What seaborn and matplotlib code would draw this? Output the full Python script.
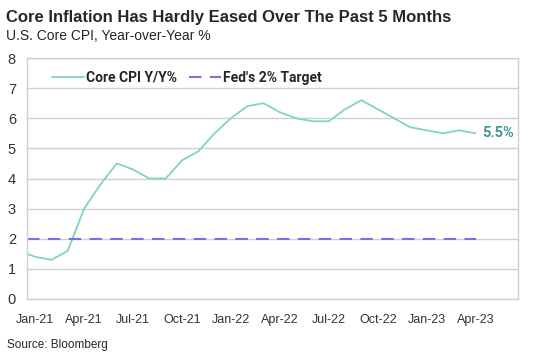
import pandas as pd
import numpy as np
import matplotlib.pyplot as plt
import seaborn as sns

# monthly core CPI y/y, Dec-20 .. Apr-23 (Dec-20 only so the line runs off the left edge)
months = ['Dec-20', 'Jan-21', 'Feb-21', 'Mar-21', 'Apr-21', 'May-21', 'Jun-21', 'Jul-21',
          'Aug-21', 'Sep-21', 'Oct-21', 'Nov-21', 'Dec-21', 'Jan-22', 'Feb-22', 'Mar-22',
          'Apr-22', 'May-22', 'Jun-22', 'Jul-22', 'Aug-22', 'Sep-22', 'Oct-22', 'Nov-22',
          'Dec-22', 'Jan-23', 'Feb-23', 'Mar-23', 'Apr-23']
core_cpi = [1.6, 1.4, 1.3, 1.6, 3.0, 3.8, 4.5, 4.3, 4.0, 4.0, 4.6, 4.9, 5.5, 6.0, 6.4, 6.5,
            6.2, 6.0, 5.9, 5.9, 6.3, 6.6, 6.3, 6.0, 5.7, 5.6, 5.5, 5.6, 5.5]
fed_target = 2.0
tick_labels = ['Jan-21', 'Apr-21', 'Jul-21', 'Oct-21', 'Jan-22', 'Apr-22',
               'Jul-22', 'Oct-22', 'Jan-23', 'Apr-23']
last_label = '5.5%'

line_col = '#7fd3c8'
target_col = '#7474e0'
grid_col = '#d0d0d0'

sns.set_style('white')
plt.rcParams['font.family'] = ['Liberation Sans', 'DejaVu Sans']

df = pd.DataFrame({'month': months, 'cpi': core_cpi})
df['x'] = np.arange(len(df)) - 1  # Jan-21 -> 0
tgt = pd.DataFrame({'x': [-0.5, df['x'].iloc[-1]], 'val': [fed_target, fed_target]})

fig = plt.figure(figsize=(5.34, 3.57), dpi=100)
ax = fig.add_axes([0.0506, 0.1625, 0.9194, 0.675])

sns.lineplot(data=df, x='x', y='cpi', ax=ax, color=line_col, lw=1.3, label='Core CPI Y/Y%')
sns.lineplot(data=tgt, x='x', y='val', ax=ax, color=target_col, lw=1.5,
             dashes=False, label="Fed's 2% Target")
ax.lines[-1].set_dashes([6, 4])

ax.set_xlim(-0.5, 29.6)
ax.set_ylim(0, 8)
ax.set_yticks(range(0, 9))
ax.yaxis.grid(True, color=grid_col, lw=1)
ax.set_axisbelow(True)
for s in ax.spines.values():
    s.set_color(grid_col)
    s.set_linewidth(1)

tick_pos = [tick_labels.index(t) * 3 for t in tick_labels]
ax.set_xticks(tick_pos)
ax.set_xticklabels(tick_labels, fontsize=9, color='#333333')
ax.set_xticks([p - 0.5 for p in tick_pos], minor=True)
ax.tick_params(axis='x', which='major', length=0, pad=11)
ax.tick_params(axis='x', which='minor', length=4, color=grid_col, width=1)
ax.tick_params(axis='y', length=0, labelsize=10.5, labelcolor='#333333', pad=8)
ax.set_xlabel('')
ax.set_ylabel('')

ax.text(df['x'].iloc[-1] + 0.4, core_cpi[-1], last_label, color='#3e9a8f', fontsize=10.5,
        fontweight='bold', va='center', ha='left', family=['Roboto', 'DejaVu Sans'])

leg = ax.legend(loc='upper left', bbox_to_anchor=(0.025, 1.0), ncol=2, frameon=False,
                handlelength=2.3, handletextpad=0.15, columnspacing=0.9,
                prop={'family': ['Roboto', 'DejaVu Sans'], 'weight': 'bold', 'size': 10})

fig.text(0.012, 0.95, 'Core Inflation Has Hardly Eased Over The Past 5 Months',
         fontsize=12, fontweight='bold', va='center', ha='left')
fig.text(0.012, 0.899, 'U.S. Core CPI, Year-over-Year %', fontsize=10, va='center', ha='left')
fig.text(0.014, 0.034, 'Source: Bloomberg', fontsize=8.5, va='center', ha='left')

fig.savefig('out.png', dpi=100)
